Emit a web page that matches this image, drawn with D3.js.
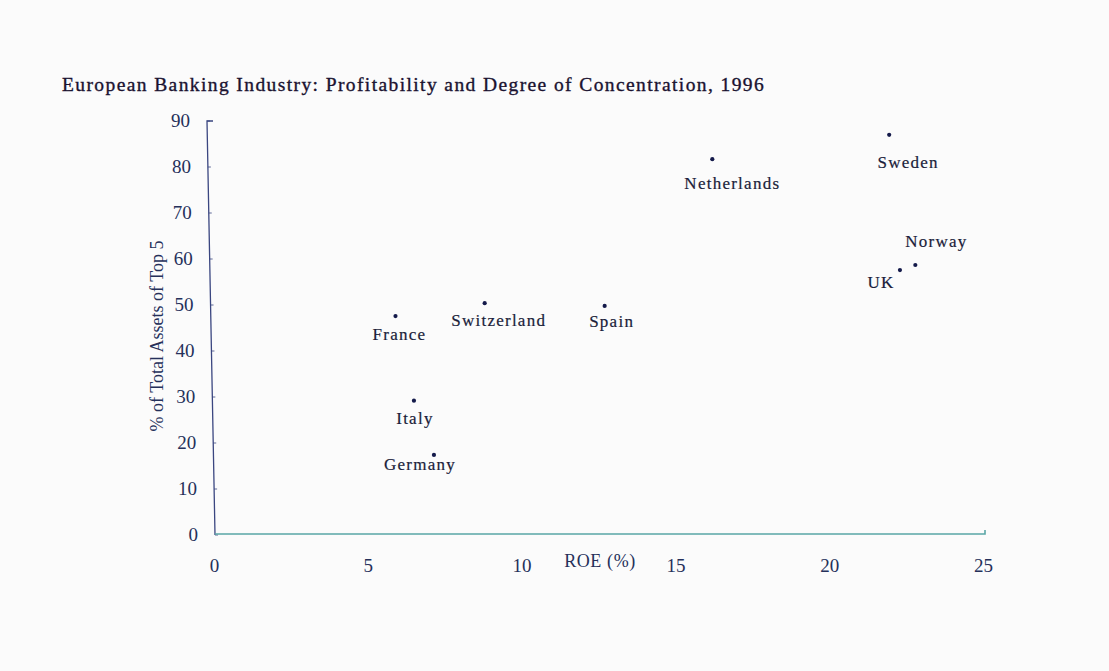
<!DOCTYPE html>
<html>
<head>
<meta charset="utf-8">
<script src="https://cdn.jsdelivr.net/npm/d3@7"></script>
<style>
  html, body { margin: 0; padding: 0; background: #fbfbfb; }
  svg { display: block; }
  text { font-family: "Liberation Serif", "DejaVu Serif", serif; }
</style>
</head>
<body>
<script>
// ---- Data ----
const countries = ["France", "Switzerland", "Spain", "Italy", "Germany", "Netherlands", "Sweden", "UK", "Norway"];
const roe = [5.9, 8.8, 12.7, 6.5, 7.15, 16.2, 21.95, 22.3, 22.8];
const concentration = [47.6, 50.4, 49.8, 29.2, 17.4, 81.7, 87.0, 57.6, 58.7];
const xTicks = [0, 5, 10, 15, 20, 25];
const yTicks = [0, 10, 20, 30, 40, 50, 60, 70, 80, 90];
const titleText = "European Banking Industry: Profitability and Degree of Concentration, 1996";
const xLabel = "ROE (%)";
const yLabel = "% of Total Assets of Top 5";

// label placement offsets relative to the point (layout, not data)
const labelOffsets = [
  [4, 24], [14, 23], [7, 21], [1, 23], [-14, 15], [20, 30], [19, 33], [-19, 18], [21, -18]
];

const W = 1109, H = 671;
const svg = d3.select("body").append("svg").attr("width", W).attr("height", H);
svg.append("rect").attr("width", W).attr("height", H).attr("fill", "#fbfbfb");

const x = d3.scaleLinear().domain([0, 25]).range([214, 983]);
const y = d3.scaleLinear().domain([0, 90]).range([535, 121]);
// slight skew of the scanned vertical axis
const skew = v => -8 * v / 90;

// Title
svg.append("text")
  .attr("x", 62).attr("y", 91)
  .attr("font-size", 19.5)
  .attr("letter-spacing", 1.4)
  .attr("fill", "#1a1230")
  .attr("stroke", "#1a1230").attr("stroke-width", 0.35)
  .text(titleText);

// Y axis
const axisX = 215;
const yAxis = svg.append("g")
  .attr("transform", "translate(" + axisX + ",0)")
  .call(d3.axisLeft(y).tickValues(yTicks).tickSize(-3).tickPadding(17).tickFormat(d3.format("d")));
yAxis.selectAll(".tick").attr("transform", d => "translate(" + skew(d) + "," + y(d) + ")");
yAxis.select(".domain").attr("stroke", "#3a4680").attr("stroke-width", 1.3)
  .attr("d", "M" + (skew(90) + 6) + "," + y(90) + "H" + skew(90) + "L0," + y(0));
yAxis.selectAll(".tick line").attr("stroke", "#3a4680").attr("stroke-width", 0.8);
yAxis.selectAll(".tick text")
  .attr("font-family", "Liberation Serif, DejaVu Serif, serif")
  .attr("font-size", 19).attr("fill", "#25305a");

// X axis
const xAxis = svg.append("g")
  .attr("transform", "translate(0," + y(0) + ")")
  .call(d3.axisBottom(x).tickValues(xTicks).tickSize(0).tickPadding(24).tickFormat(d3.format("d")));
xAxis.select(".domain").attr("stroke", "#5aa6a6").attr("stroke-width", 1.6)
  .attr("d", "M" + axisX + ",-1H" + (x(25) + 2) + "V-5");
xAxis.selectAll(".tick text")
  .attr("font-family", "Liberation Serif, DejaVu Serif, serif")
  .attr("font-size", 19).attr("fill", "#25305a");

// Axis titles
svg.append("text")
  .attr("x", 600).attr("y", 567)
  .attr("text-anchor", "middle")
  .attr("font-size", 18).attr("letter-spacing", 0.6).attr("fill", "#25305a")
  .text(xLabel);

svg.append("text")
  .attr("transform", "translate(163," + 336 + ") rotate(-90)")
  .attr("text-anchor", "middle")
  .attr("font-size", 18).attr("fill", "#25305a")
  .text(yLabel);

// Points
const pts = countries.map((c, i) => ({ name: c, x: roe[i], y: concentration[i], off: labelOffsets[i] }));

svg.append("g").selectAll("circle")
  .data(pts).join("circle")
  .attr("cx", d => x(d.x)).attr("cy", d => y(d.y))
  .attr("r", 2.1).attr("fill", "#141a4a");

svg.append("g").selectAll("text")
  .data(pts).join("text")
  .attr("x", d => x(d.x) + d.off[0]).attr("y", d => y(d.y) + d.off[1])
  .attr("text-anchor", "middle")
  .attr("font-size", 17).attr("fill", "#1a1d3a")
  .attr("letter-spacing", 1.25)
  .attr("stroke", "#1a1d3a").attr("stroke-width", 0.2)
  .text(d => d.name);
</script>
</body>
</html>
